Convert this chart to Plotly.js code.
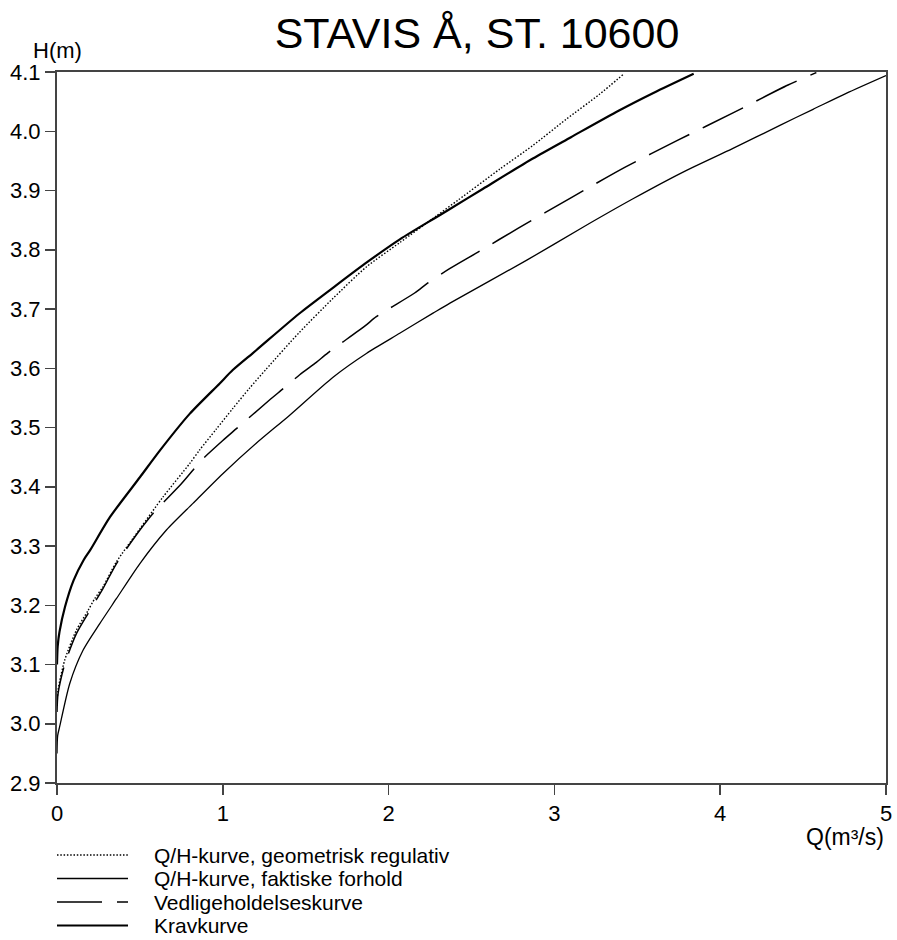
<!DOCTYPE html>
<html>
<head>
<meta charset="utf-8">
<script src="https://cdn.plot.ly/plotly-3.0.1.min.js"></script>
<style>html,body{margin:0;padding:0;background:#fff;}#chart{width:897px;height:940px;}</style>
</head>
<body>
<div id="chart"></div>
<script>
const chartTitle = "STAVIS Å, ST. 10600";
const xAxisLabel = "Q(m³/s)";
const yAxisLabel = "H(m)";
const xTicks = [0, 1, 2, 3, 4, 5];
const xTickLabels = ["0", "1", "2", "3", "4", "5"];
const yTicks = [2.9, 3.0, 3.1, 3.2, 3.3, 3.4, 3.5, 3.6, 3.7, 3.8, 3.9, 4.0, 4.1];
const yTickLabels = ["2.9", "3.0", "3.1", "3.2", "3.3", "3.4", "3.5", "3.6", "3.7", "3.8", "3.9", "4.0", "4.1"];
const seriesNames = ["Q/H-kurve, geometrisk regulativ", "Q/H-kurve, faktiske forhold", "Vedligeholdelseskurve", "Kravkurve"];

// Q/H-kurve, geometrisk regulativ (dotted)
const qGeo = [0, 0.006, 0.046, 0.117, 0.187, 0.227, 0.277, 0.358, 0.5, 0.64, 0.8, 0.86, 0.96, 1.06, 1.16, 1.26, 1.46, 1.665, 1.866, 2.067, 2.288, 2.42, 2.67, 2.87, 3.07, 3.27, 3.42];
const hGeo = [3.03, 3.056, 3.107, 3.158, 3.191, 3.211, 3.231, 3.273, 3.329, 3.383, 3.439, 3.462, 3.497, 3.532, 3.566, 3.598, 3.66, 3.718, 3.771, 3.812, 3.857, 3.884, 3.936, 3.976, 4.02, 4.062, 4.097];

// Q/H-kurve, faktiske forhold (thin solid, lowest)
const qFakt = [0, 0.004, 0.016, 0.077, 0.157, 0.258, 0.358, 0.499, 0.66, 0.82, 1.0, 1.2, 1.4, 1.665, 1.866, 2.067, 2.268, 2.37, 2.831, 3.172, 3.474, 3.776, 4.077, 4.36, 4.56, 4.76, 5.0];
const hFakt = [2.95, 2.98, 2.995, 3.068, 3.124, 3.169, 3.211, 3.27, 3.327, 3.372, 3.422, 3.473, 3.52, 3.585, 3.625, 3.659, 3.693, 3.71, 3.782, 3.838, 3.886, 3.931, 3.971, 4.010, 4.037, 4.064, 4.094];

// Vedligeholdelseskurve (dashed)
const qVed = [0, 0.006, 0.046, 0.117, 0.187, 0.277, 0.358, 0.5, 0.579, 0.75, 0.82, 0.861, 1.0, 1.082, 1.28, 1.353, 1.464, 1.564, 1.634, 1.856, 1.926, 2.157, 2.237, 2.368, 2.539, 2.78, 3.102, 3.424, 3.745, 4.077, 4.409, 4.58];
const hVed = [3.02, 3.05, 3.10, 3.152, 3.186, 3.228, 3.27, 3.327, 3.355, 3.405, 3.428, 3.442, 3.478, 3.498, 3.546, 3.563, 3.589, 3.610, 3.626, 3.671, 3.687, 3.727, 3.744, 3.768, 3.796, 3.836, 3.888, 3.939, 3.985, 4.031, 4.078, 4.099];

// Kravkurve (thick solid, highest)
const qKrav = [0, 0.004, 0.015, 0.048, 0.1, 0.16, 0.2, 0.32, 0.5, 0.62, 0.8, 0.98, 1.06, 1.2, 1.46, 1.67, 1.87, 2.07, 2.27, 2.36, 2.57, 2.87, 3.1, 3.39, 3.6, 3.84];
const hKrav = [3.10, 3.13, 3.155, 3.197, 3.242, 3.276, 3.293, 3.349, 3.416, 3.461, 3.523, 3.574, 3.597, 3.630, 3.692, 3.737, 3.779, 3.818, 3.852, 3.867, 3.903, 3.954, 3.99, 4.035, 4.065, 4.097];

const FONT = "Liberation Sans, Arial, Helvetica, sans-serif";
const styles = [
  {color: "#000", width: 1.4, dash: "1.5px,1.8px"},
  {color: "#000", width: 1.3, dash: "solid"},
  {color: "#000", width: 1.5, dash: "45px,15px"},
  {color: "#000", width: 2.2, dash: "solid"}
];
const series = [[qGeo, hGeo], [qFakt, hFakt], [qVed, hVed], [qKrav, hKrav]];

const traces = series.map((s, i) => ({
  x: s[0], y: s[1], type: "scatter", mode: "lines", name: seriesNames[i],
  line: Object.assign({shape: "spline", smoothing: 0.7}, styles[i]),
  showlegend: false, hoverinfo: "skip"
}));

// manual legend (long line samples like the reference)
const legRowsPx = [855, 878.5, 902, 925.5];
const plotTop = 72, plotBottom = 783, plotLeft = 57, plotRight = 886;
const pyToPaper = py => (plotBottom - py) / (plotBottom - plotTop);
const pxToPaper = px => (px - plotLeft) / (plotRight - plotLeft);

const shapes = seriesNames.map((n, i) => ({
  type: "line", xref: "paper", yref: "paper",
  x0: pxToPaper(57), x1: pxToPaper(128),
  y0: pyToPaper(legRowsPx[i]), y1: pyToPaper(legRowsPx[i]),
  line: styles[i]
}));

const annotations = seriesNames.map((n, i) => ({
  text: n, xref: "paper", yref: "paper", showarrow: false,
  x: pxToPaper(152), xanchor: "left", y: pyToPaper(legRowsPx[i]), yanchor: "middle",
  font: {family: FONT, size: 21, color: "#000"}
}));
annotations.push({
  text: yAxisLabel, xref: "paper", yref: "paper", showarrow: false,
  x: 0, xanchor: "center", y: pyToPaper(50), yanchor: "middle",
  font: {family: FONT, size: 22, color: "#000"}
});
annotations.push({
  text: xAxisLabel, xref: "paper", yref: "paper", showarrow: false,
  x: 1, xanchor: "right", y: pyToPaper(837), yanchor: "middle",
  font: {family: FONT, size: 23, color: "#000"}
});

const axisCommon = {
  showline: true, linecolor: "#444", linewidth: 2, mirror: true,
  ticks: "outside", ticklen: 10, tickwidth: 1.5, tickcolor: "#444",
  showgrid: false, zeroline: false, fixedrange: true,
  tickfont: {family: FONT, size: 22, color: "#000"}
};

const layout = {
  width: 897, height: 940,
  margin: {l: 57, r: 11, t: 72, b: 157, pad: 0},
  paper_bgcolor: "#fff", plot_bgcolor: "#fff",
  font: {family: FONT, color: "#000"},
  title: {text: chartTitle, x: 477 / 897, xanchor: "center", xref: "container",
          y: 1 - 33 / 940, yanchor: "middle", yref: "container",
          font: {family: FONT, size: 43, color: "#000"}},
  xaxis: Object.assign({}, axisCommon, {range: [0, 5], tickvals: xTicks, ticktext: xTickLabels}),
  yaxis: Object.assign({}, axisCommon, {range: [2.9, 4.1], tickvals: yTicks, ticktext: yTickLabels}),
  showlegend: false,
  shapes: shapes,
  annotations: annotations
};

Plotly.newPlot("chart", traces, layout, {displayModeBar: false, staticPlot: true});
</script>
</body>
</html>
